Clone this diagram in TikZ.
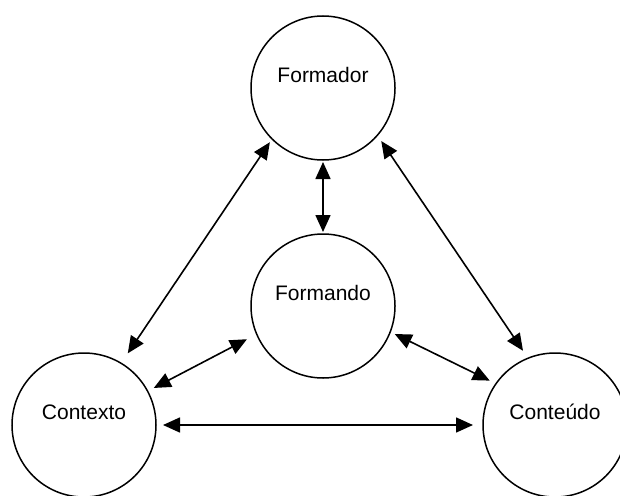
\documentclass[tikz,border=0pt]{standalone}
\usepackage{fontspec}
\setmainfont{Liberation Sans}
\usetikzlibrary{arrows.meta}
\begin{document}
\begin{tikzpicture}[x=1pt,y=-1pt,
  actor/.style={draw, circle, line width=1.5pt, minimum size=144pt, inner sep=0pt, outer sep=0pt,
    font=\fontsize{21}{25}\selectfont},
  link/.style={line width=1.6pt, {Triangle[length=17pt,width=15pt]}-{Triangle[length=17pt,width=15pt]}}]
  \useasboundingbox (0,0) rectangle (620,495);
  \newcommand{\lifted}[1]{\raisebox{13pt}[\height][\depth]{#1}}
  % the four parties
  \node[actor] (formador) at (323,88) {\lifted{Formador}};
  \node[actor] (formando) at (323,306) {\lifted{Formando}};
  \node[actor] (contexto) at (84,425) {\lifted{Contexto}};
  \node[actor] (conteudo) at (555,425) {\lifted{Conteúdo}};
  % two-way relations
  \draw[link, shorten <=2pt, shorten >=2pt] (formador.south) -- (formando.north);
  \draw[link, shorten <=4pt, shorten >=12pt] (formador.225) -- (contexto.59);
  \draw[link, shorten <=7pt, shorten >=9pt] (formador.319) -- (conteudo.112.5);
  \draw[link, shorten <=11pt, shorten >=7pt] (formando.203.5) -- (contexto.28.8);
  \draw[link, shorten <=5pt, shorten >=7pt] (formando.339.4) -- (conteudo.145.3);
  \draw[link, shorten <=7pt, shorten >=10pt] (contexto.east) -- (conteudo.west);
\end{tikzpicture}
\end{document}
